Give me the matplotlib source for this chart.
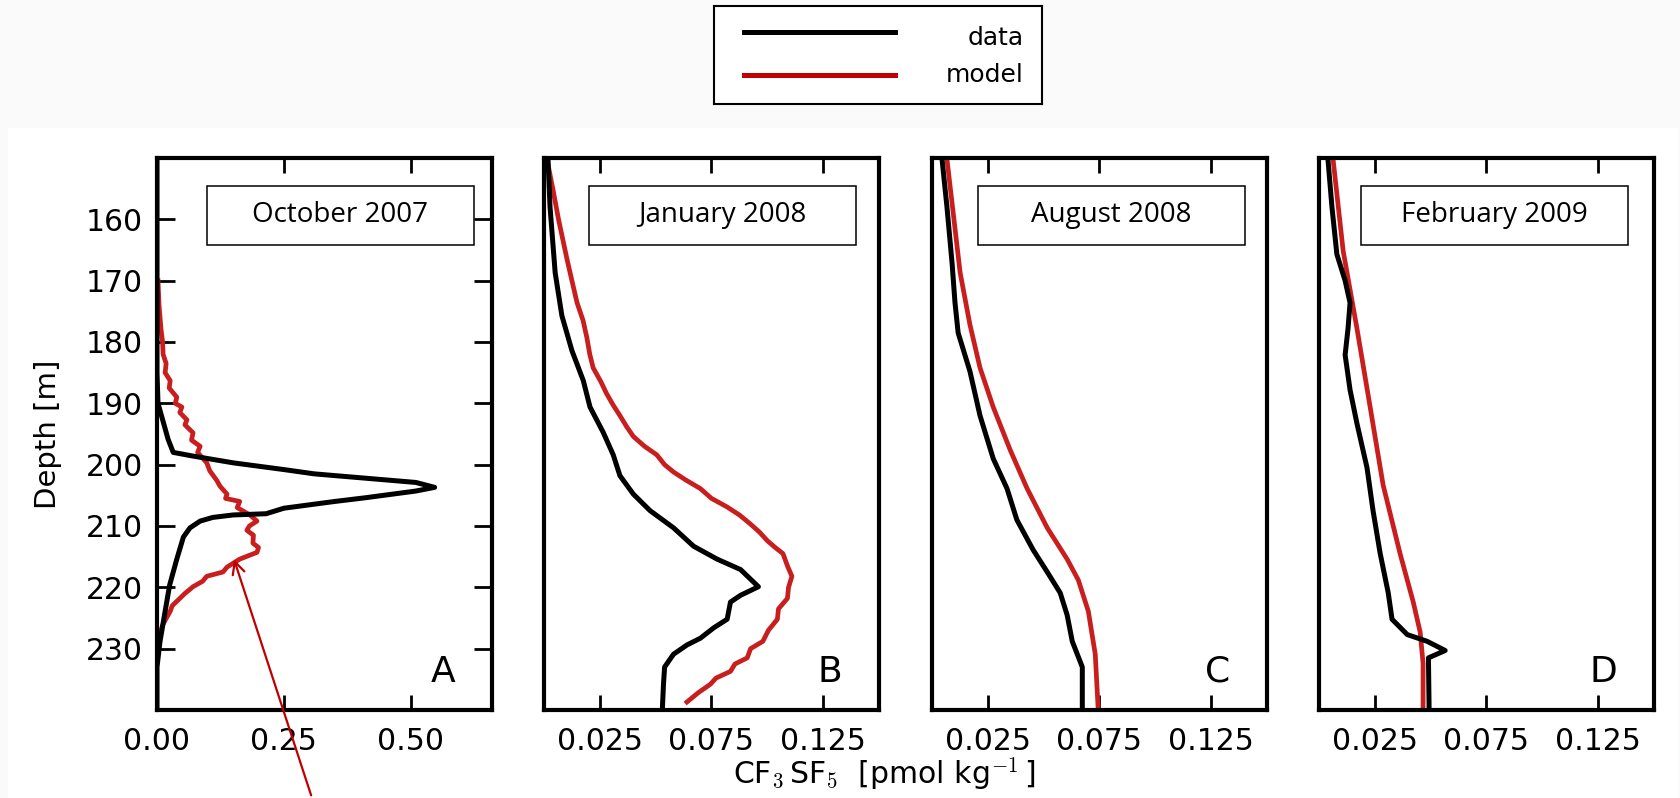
import numpy as np
import matplotlib
matplotlib.use("Agg")
import matplotlib.pyplot as plt
from matplotlib.patches import Rectangle

plt.rcParams['font.family'] = ['DejaVu Sans']
plt.rcParams['mathtext.fontset'] = 'cm'
plt.rcParams['mathtext.rm'] = 'DejaVu Sans'

# ---- data ----
titles = ["October 2007", "January 2008", "August 2008", "February 2009"]
letters = ["A", "B", "C", "D"]

# panel A
a_data_d = [150, 185, 190, 195.9, 198, 198.6, 199.7, 200.8, 201.5, 202.2, 202.9, 203.7,
            204.3, 205.4, 206, 207.1, 208, 208.2, 208.6, 209.2, 210.3, 211.8, 215.4,
            219.6, 223.9, 228.8, 233, 240]
a_data_v = [0.0, 0.0, 0.002, 0.022, 0.032, 0.071, 0.15, 0.25, 0.31, 0.41, 0.51, 0.547,
            0.51, 0.41, 0.35, 0.25, 0.215, 0.15, 0.11, 0.085, 0.065, 0.052, 0.039,
            0.025, 0.016, 0.006, 0.0, 0.0]
a_model_d = [170, 174, 178, 180, 182, 183.5, 185, 186.3, 187.5, 189, 190, 190.6, 191.5,
             192.7, 193.5, 194.8, 196, 197, 198, 199.7, 201, 202.6, 203.5, 204.8, 205.5,
             206, 207, 208.2, 209.2, 210, 210.7, 211.5, 212.8, 213.5, 214.3, 215.4, 216.7,
             217.5, 218.2, 219, 219.9, 221, 221.8, 223, 223.9, 226, 228.8]
a_model_v = [0.002, 0.004, 0.008, 0.011, 0.012, 0.018, 0.016, 0.026, 0.024, 0.039, 0.036,
             0.049, 0.045, 0.059, 0.055, 0.071, 0.068, 0.085, 0.080, 0.098, 0.104, 0.118,
             0.124, 0.138, 0.135, 0.163, 0.158, 0.183, 0.197, 0.182, 0.177, 0.190, 0.189,
             0.200, 0.197, 0.163, 0.138, 0.130, 0.098, 0.090, 0.071, 0.055, 0.045, 0.030,
             0.026, 0.012, 0.0]

# panel B
b_data_d = [150.2, 158, 168.7, 175.7, 181.4, 186.3, 190.6, 194.8, 198.4, 201.8, 204.8,
            207.5, 210.3, 213.3, 215.4, 217.1, 219.9, 221.3, 222.4, 225.2, 226.6, 228.3,
            229.4, 230.9, 233, 235.8, 239.8]
b_data_v = [0.0018, 0.0027, 0.005, 0.008, 0.0125, 0.0176, 0.0206, 0.0266, 0.031, 0.034,
            0.040, 0.0475, 0.058, 0.067, 0.0775, 0.088, 0.096, 0.088, 0.0835, 0.082,
            0.076, 0.070, 0.064, 0.058, 0.054, 0.0535, 0.053]
b_model_d = [150.2, 155.1, 160, 166.5, 170, 173.6, 176.5, 179.3, 182, 184.2, 186.5, 188.4,
             190.3, 192, 193.8, 195.4, 197, 198.4, 200, 201.2, 202.5, 203.9, 205.5, 206.9,
             208.2, 209.7, 211, 212.4, 213.5, 214.5, 216.5, 218.2, 220, 221.8, 223.5,
             225.2, 227, 228.8, 230, 231.5, 232.5, 233.7, 234.8, 235.8, 237.2, 238.7]
b_model_v = [0.0013, 0.004, 0.0065, 0.0103, 0.0125, 0.0148, 0.0175, 0.0192, 0.0205, 0.022,
             0.0255, 0.028, 0.031, 0.034, 0.037, 0.040, 0.045, 0.0505, 0.054, 0.058,
             0.0635, 0.070, 0.075, 0.082, 0.0875, 0.0925, 0.0965, 0.100, 0.1035, 0.107,
             0.109, 0.111, 0.1095, 0.109, 0.105, 0.1045, 0.1005, 0.098, 0.0925, 0.091,
             0.0855, 0.0835, 0.077, 0.0745, 0.069, 0.064]

# panel C
c_data_d = [150.2, 158, 167.2, 173.6, 178.5, 184.8, 192, 199, 203.9, 209, 213.9, 217.5,
            220.9, 224.5, 228.8, 233, 239.8]
c_data_v = [0.0045, 0.0067, 0.009, 0.0103, 0.0117, 0.017, 0.0215, 0.0274, 0.0336, 0.038,
            0.0453, 0.0516, 0.0574, 0.0605, 0.0628, 0.0673, 0.0673]
c_model_d = [150.2, 168.7, 177.2, 184.2, 190.6, 197.6, 203.9, 210.3, 215.4, 218.8, 223.9,
             230.9, 239.8]
c_model_v = [0.0067, 0.0126, 0.017, 0.0215, 0.0274, 0.035, 0.0426, 0.0516, 0.0605, 0.0655,
             0.070, 0.0731, 0.0744]

# panel D
d_data_d = [150.2, 158, 165.7, 170, 173.6, 177.8, 182.1, 187.8, 193.3, 200.5, 207.5,
            214.5, 220.9, 225.2, 227.7, 228.8, 230.3, 231.5, 239.8]
d_data_v = [0.004, 0.0058, 0.008, 0.0117, 0.0139, 0.013, 0.0117, 0.0139, 0.017, 0.0215,
            0.0242, 0.0274, 0.031, 0.0327, 0.0395, 0.0484, 0.0565, 0.049, 0.0493]
d_model_d = [150.2, 165.1, 177.8, 190.6, 203.3, 214.5, 222.4, 227.3, 232.4, 239.8]
d_model_v = [0.0063, 0.0108, 0.017, 0.0229, 0.0287, 0.0363, 0.0422, 0.0453, 0.0466, 0.0466]

data_d = [a_data_d, b_data_d, c_data_d, d_data_d]
data_v = [a_data_v, b_data_v, c_data_v, d_data_v]
model_d = [a_model_d, b_model_d, c_model_d, d_model_d]
model_v = [a_model_v, b_model_v, c_model_v, d_model_v]

RED = '#c81e1e'
W, H = 1681, 798

fig = plt.figure(figsize=(W / 100, H / 100), dpi=100, facecolor='#fafafa')
# white sheet behind the panels
fig.patches.append(Rectangle((8 / W, 0), (1678 - 8) / W, (H - 128) / H,
                             transform=fig.transFigure, facecolor='white',
                             edgecolor='none', zorder=-5))

lefts = [157, 544, 932, 1319]
box_x = [0.149, 0.134, 0.137, 0.125]
ax_top, ax_bot = 158, 710
axes = []
for i in range(4):
    ax = fig.add_axes([lefts[i] / W, (H - ax_bot) / H, 335 / W, (ax_bot - ax_top) / H])
    ax.plot(data_v[i], data_d[i], color='black', lw=3.6, zorder=3)
    ax.plot(model_v[i], model_d[i], color=RED, lw=3.4, zorder=2)
    ax.set_ylim(240, 150)
    for s in ax.spines.values():
        s.set_linewidth(3)
    if i == 0:
        ax.set_xlim(0, 0.66)
        ax.set_xticks([0, 0.25, 0.5])
        ax.set_xticklabels(["0.00", "0.25", "0.50"])
        ax.set_yticks([160, 170, 180, 190, 200, 210, 220, 230])
        ax.tick_params(axis='y', direction='in', left=True, right=True,
                       length=13, width=2, labelsize=21.5, pad=10)
        ax.set_ylabel("Depth [m]", fontsize=21, labelpad=17)
    else:
        ax.set_xlim(0, 0.15)
        ax.set_xticks([0.025, 0.075, 0.125])
        ax.set_xticklabels(["0.025", "0.075", "0.125"])
        ax.set_yticks([])
    ax.tick_params(axis='x', direction='in', top=True, bottom=True,
                   length=11, width=2, labelsize=21.5, pad=12)
    ax.add_patch(Rectangle((box_x[i], 0.843), 0.797, 0.106, transform=ax.transAxes,
                           facecolor='white', edgecolor='black', lw=1.1, zorder=5))
    ax.text(box_x[i] + 0.797 / 2, 0.896, titles[i], transform=ax.transAxes,
            ha='center', va='center', fontsize=20, family='Open Sans', zorder=6)
    ax.text(0.89, 0.051, letters[i], transform=ax.transAxes, ha='right',
            va='baseline', fontsize=26)
    axes.append(ax)

fig.text(884 / W, (H - 784) / H, r"CF$_3\,$SF$_5$  [pmol kg$^{-1}\,$]",
         ha='center', va='baseline', fontsize=21.5)

# annotation arrow pointing at the model maximum in panel A
axes[0].annotate('', xy=(0.15, 215), xycoords='data',
                 xytext=(312 / W, 0), textcoords='figure fraction',
                 arrowprops=dict(arrowstyle='->', color='#c00000', lw=1.6,
                                 mutation_scale=22),
                 annotation_clip=False)

# legend box drawn at the top
leg = fig.add_axes([714 / W, (H - 104) / H, 328 / W, 98 / H])
leg.set_xlim(0, 1)
leg.set_ylim(0, 1)
leg.set_xticks([])
leg.set_yticks([])
for s in leg.spines.values():
    s.set_linewidth(1.5)
leg.plot([0.091, 0.552], [0.73, 0.73], color='black', lw=3.6)
leg.plot([0.091, 0.552], [0.30, 0.30], color='#c00000', lw=3.6)
leg.text(0.945, 0.67, "data", ha='right', va='center', fontsize=18)
leg.text(0.945, 0.30, "model", ha='right', va='center', fontsize=18)

fig.savefig("out.png", dpi=100, facecolor=fig.get_facecolor())
